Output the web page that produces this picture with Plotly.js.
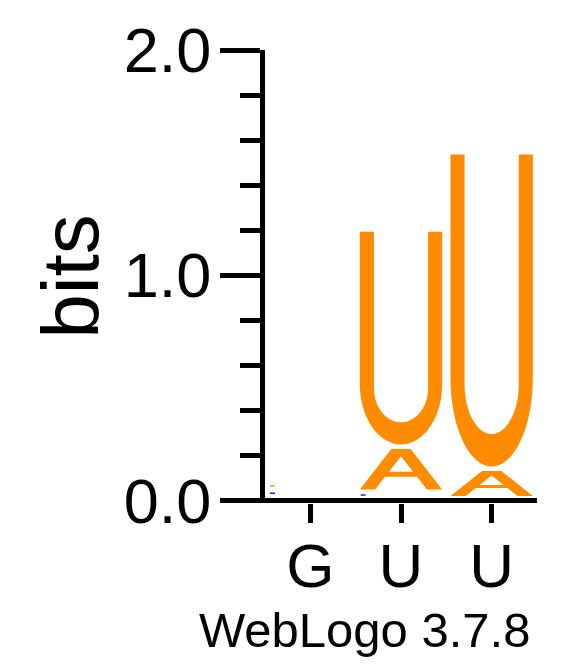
<!DOCTYPE html>
<html>
<head>
<meta charset="utf-8">
<script src="https://cdn.plot.ly/plotly-3.0.1.min.js"></script>
<style>html,body{margin:0;padding:0;background:#fff;}#chart{width:583px;height:667px;}</style>
</head>
<body>
<div id="chart"></div>
<script>
const positions = [1, 2, 3];
const tickLabels = ['G', 'U', 'U'];
// letters in each stack, bottom to top, with their heights in bits
const col1Letters = ['G', 'A'];
const col1Bits = [0.045, 0.02];
const col2Letters = ['C', 'A', 'U'];
const col2Bits = [0.029, 0.2, 0.964];
const col3Letters = ['A', 'U'];
const col3Bits = [0.131, 1.405];
const stackLetters = [col1Letters, col2Letters, col3Letters];
const stackBits = [col1Bits, col2Bits, col3Bits];

// base-pairing colour scheme
const colorScheme = {A: '#FF8C00', U: '#FF8C00', T: '#FF8C00', G: '#0000FF', C: '#0000FF'};

// ---- Glyph outlines in a unit box (style, not data) ----
function ellipseArc(cx, cy, rx, ry, t0, t1, n) {
  const pts = [];
  for (let i = 0; i <= n; i++) {
    const t = t0 + (t1 - t0) * i / n;
    pts.push([cx + rx * Math.cos(t), cy + ry * Math.sin(t)]);
  }
  return pts;
}
function glyphU() {
  const arm = 0.171, oy = 0.284, iy = 0.265, iry = 0.161;
  let p = [[0, 1], [0, oy]];
  p = p.concat(ellipseArc(0.5, oy, 0.5, oy, Math.PI, 2 * Math.PI, 48));
  p.push([1, 1], [1 - arm, 1], [1 - arm, iy]);
  p = p.concat(ellipseArc(0.5, iy, 0.5 - arm, iry, 2 * Math.PI, Math.PI, 48));
  p.push([arm, iy], [arm, 1]);
  return [p];
}
function glyphA() {
  const outer = [[0, 0], [0.383, 1], [0.617, 1], [1, 0], [0.815, 0], [0.694, 0.317], [0.306, 0.317], [0.185, 0]];
  const hole = [[0.354, 0.44], [0.646, 0.44], [0.5, 0.82]];
  return [outer, hole];
}
function glyphBox() { return [[[0, 0], [1, 0], [1, 1], [0, 1]]]; }
const glyphs = {U: glyphU, A: glyphA};

const halfW = 0.454, inset = 0.01, baseOffset = 0.01, tinyLimit = 0.05;

function pathFor(subpaths, x0, x1, y0, y1) {
  return subpaths.map(sp => 'M' + sp.map(([u, v]) =>
    (x0 + u * (x1 - x0)).toFixed(5) + ',' + (y0 + v * (y1 - y0)).toFixed(5)).join('L') + 'Z').join(' ');
}

const shapes = [];
positions.forEach((c, i) => {
  let base = baseOffset;
  stackLetters[i].forEach((L, j) => {
    const h = stackBits[i][j];
    const color = colorScheme[L] || '#000';
    let path;
    if (h < tinyLimit) {
      const ym = base + h / 2;
      path = pathFor(glyphBox(), c - 0.445, c - 0.39, ym - 0.003, ym + 0.003);
    } else {
      const g = (glyphs[L] || glyphBox)();
      path = pathFor(g, c - halfW, c + halfW, base + inset, base + h - inset);
    }
    shapes.push({type: 'path', xref: 'x', yref: 'y', path: path, fillcolor: color,
      line: {width: 0}, fillrule: 'evenodd', layer: 'above'});
    base += h;
  });
});

const FONT = 'Liberation Sans, Arial, Helvetica, sans-serif';

const trace = {
  x: positions, y: positions.map(() => 0), mode: 'markers',
  marker: {opacity: 0}, hoverinfo: 'skip', showlegend: false
};

const layout = {
  width: 583, height: 667,
  margin: {l: 265, r: 46, t: 50, b: 164, pad: 0},
  paper_bgcolor: '#fff', plot_bgcolor: '#fff',
  showlegend: false,
  font: {family: FONT, color: '#000'},
  xaxis: {
    range: [0.5, 3.5], tickmode: 'array', tickvals: positions, ticktext: tickLabels,
    ticks: 'outside', ticklen: 19, tickwidth: 5, tickcolor: '#000',
    ticklabelstandoff: -10,
    showline: false, showgrid: false, zeroline: false,
    tickfont: {size: 62, family: FONT, color: '#000'}, fixedrange: true
  },
  yaxis: {
    range: [-0.011, 2], tick0: 0, dtick: 1, tickformat: '.1f',
    ticks: 'outside', ticklen: 40, tickwidth: 5, tickcolor: '#000',
    ticklabelstandoff: -4,
    showline: true, linewidth: 5, linecolor: '#000',
    zeroline: true, zerolinewidth: 5, zerolinecolor: '#000',
    showgrid: false,
    minor: {tick0: 0, dtick: 0.2, ticks: 'outside', ticklen: 20, tickwidth: 5, tickcolor: '#000', showgrid: false},
    tickfont: {size: 63, family: FONT, color: '#000'},
    title: {text: 'bits', font: {size: 80, family: FONT, color: '#000'}, standoff: 0},
    fixedrange: true
  },
  shapes: shapes,
  annotations: [{
    text: 'WebLogo 3.7.8', xref: 'paper', yref: 'paper', x: 0.364, y: -0.28,
    xanchor: 'center', yanchor: 'middle', showarrow: false,
    font: {size: 49, family: FONT, color: '#000'}
  }]
};

Plotly.newPlot('chart', [trace], layout, {displayModeBar: false, staticPlot: true});
</script>
</body>
</html>
